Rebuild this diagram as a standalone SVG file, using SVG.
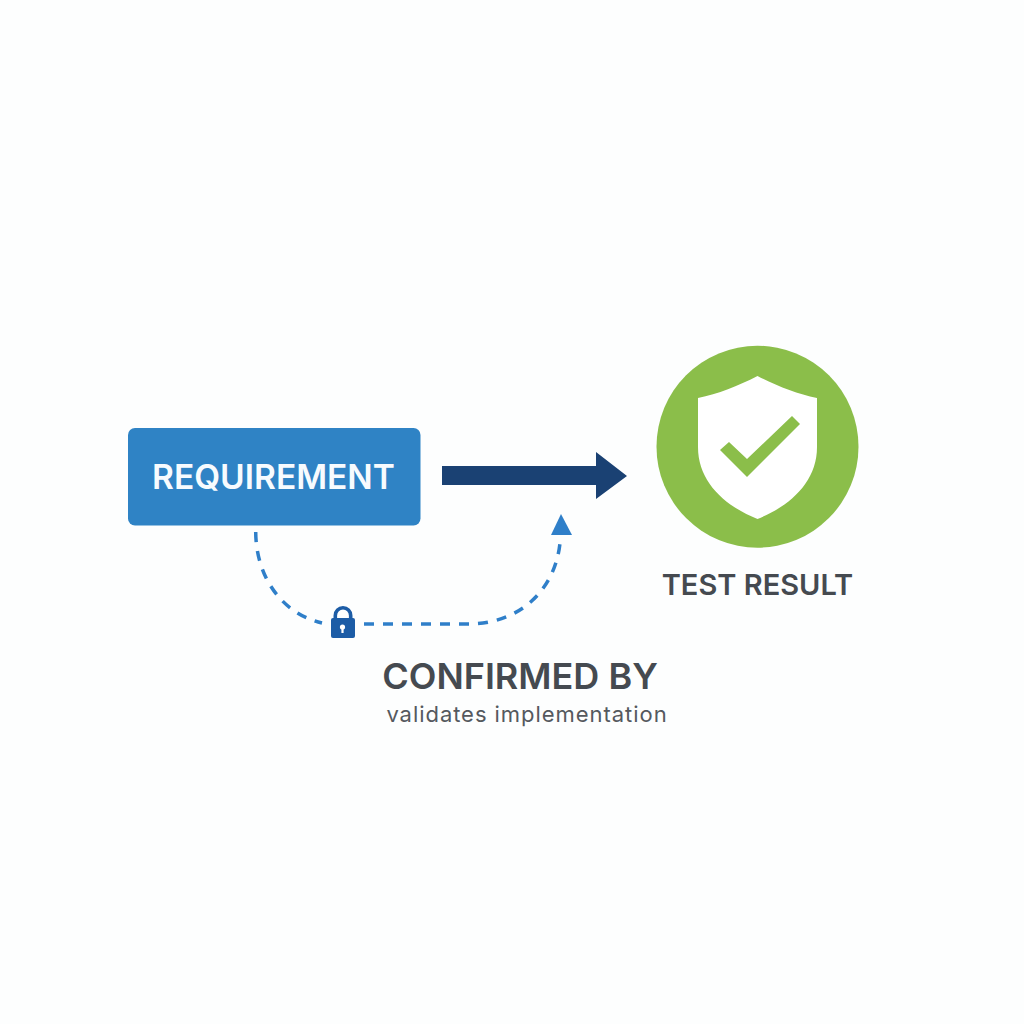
<svg xmlns="http://www.w3.org/2000/svg" width="1024" height="1024" viewBox="0 0 1024 1024">
<style>
text{font-family:Inter,"Liberation Sans",sans-serif;text-anchor:middle}
.dash{fill:none;stroke:#2f7fc9;stroke-width:3.500;stroke-dasharray:10 9}
.lbl{fill:#454a50;font-weight:600}
</style>
<rect width="1024" height="1024" fill="#fdfefe"/>
<g id="connectors">
<path id="solid-arrow" d="M442 466H596V452L627 476L596 499V485H442Z" fill="#1a4173"/>
<path id="dashed-left" class="dash" d="M255.700 532C256 575 280 613 322 623"/>
<path id="dashed-right" class="dash" d="M364 624H468C520 624 555 590 560 543"/>
<path id="dashed-head" d="M561 514L572 535H551Z" fill="#2f7fc9"/>
</g>
<g id="lock">
<path d="M335.300 619V615.500a7.700 7.700 0 0 1 15.400 0V619" fill="none" stroke="#1c5ca6" stroke-width="3.600"/>
<rect x="331" y="618" width="24" height="20" rx="2" fill="#1c5ca6"/>
<circle cx="342.500" cy="627" r="2.600" fill="#fff"/>
<rect x="341.400" y="627" width="2.200" height="6" fill="#fff"/>
</g>
<g id="requirement">
<rect x="128" y="428" width="292.500" height="97.500" rx="7" fill="#2f83c5"/>
<text x="273.500" y="488.500" font-size="33.500" font-weight="600" fill="#f7fbfe">REQUIREMENT</text>
</g>
<g id="test-result">
<circle cx="757.500" cy="446.700" r="101" fill="#8bbe4a"/>
<path d="M757.500 376C738 386 718 394 698 398V447C698 482 725 506 757.500 519C790 506 817 482 817 447V398C797 394 777 386 757.500 376Z" fill="#fff"/>
<path d="M720 450L729 442L747 459L792 416L800 424L747 477Z" fill="#8bbe4a"/>
<text x="757.500" y="595" font-size="29" font-weight="600" fill="#454a50">TEST RESULT</text>
</g>
<g id="confirmed-label">
<text class="lbl" x="520" y="688.500" font-size="36">CONFIRMED BY</text>
<text x="527" y="722" font-size="22" letter-spacing="0.950" fill="#55595e">validates implementation</text>
</g>
</svg>
